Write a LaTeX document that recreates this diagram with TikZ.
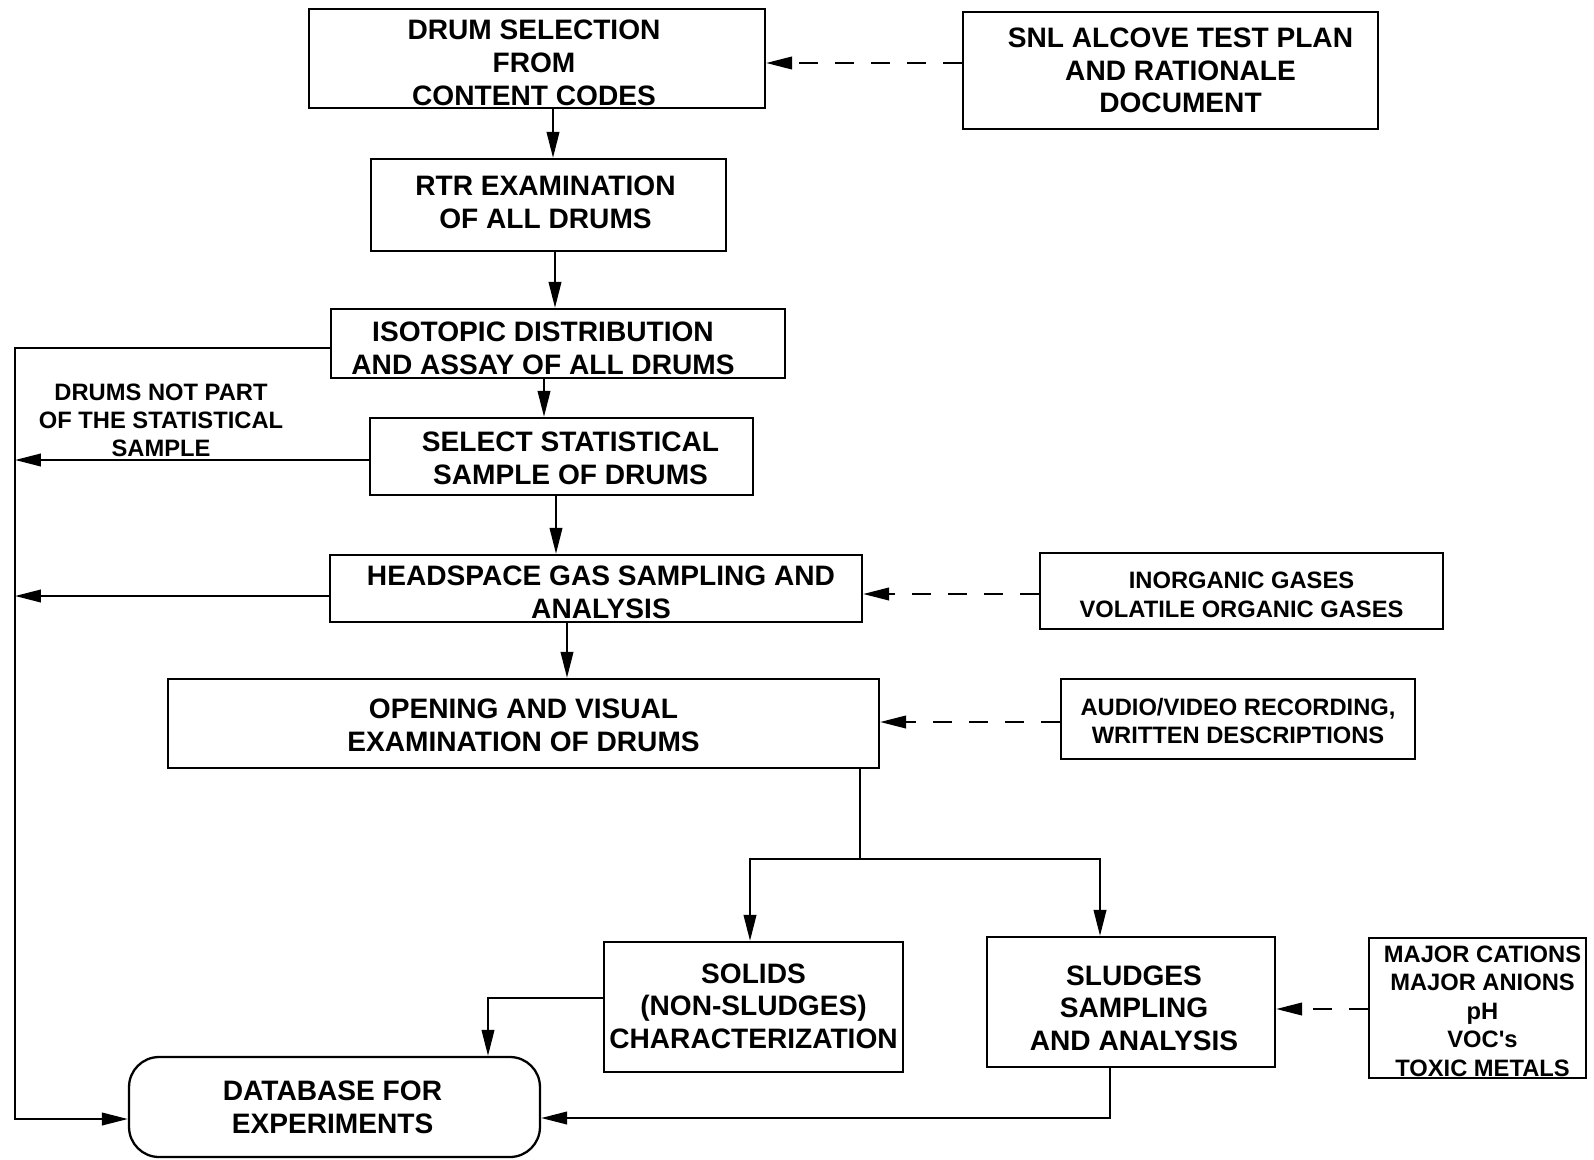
\documentclass[tikz,border=0pt]{standalone}
\usepackage{fontspec}
\setmainfont{Liberation Sans}
\newfontfamily\plainquote[Ligatures=ResetAll]{Liberation Sans}
\usetikzlibrary{arrows.meta}
\tikzset{
  box/.style={draw, line width=1.3pt, rectangle, inner sep=0pt},
  txt/.style={align=center, inner sep=0pt, font=\bfseries\fontsize{16}{18.6}\selectfont},
  smalltxt/.style={txt, font=\bfseries\fontsize{13.5}{16.2}\selectfont},
  lbl/.style={align=center, inner sep=0pt, font=\bfseries\fontsize{13.5}{15.9}\selectfont},
  conn/.style={line width=1.3pt},
  arr/.style={conn, -{Triangle[length=0.52cm,width=0.25cm]}},
  darr/.style={arr, dash pattern=on 0.38cm off 0.34cm},
}
\begin{document}
\begin{tikzpicture}[x=0.02cm,y=-0.02cm]
\useasboundingbox (0,0) rectangle (1594,1159);
% boxes
\node[box, minimum width=9.12cm, minimum height=1.98cm] (drum) at (537,58.5) {};
\node[box, minimum width=8.3cm, minimum height=2.34cm] (snl) at (1170.5,70.5) {};
\node[box, minimum width=7.1cm, minimum height=1.84cm] (rtr) at (548.5,205) {};
\node[box, minimum width=9.08cm, minimum height=1.38cm] (iso) at (558,343.5) {};
\node[box, minimum width=7.66cm, minimum height=1.54cm] (sel) at (561.5,456.5) {};
\node[box, minimum width=10.64cm, minimum height=1.34cm] (head) at (596,588.5) {};
\node[box, minimum width=8.06cm, minimum height=1.52cm] (inorg) at (1241.5,591) {};
\node[box, minimum width=14.22cm, minimum height=1.78cm] (open) at (523.5,723.5) {};
\node[box, minimum width=7.08cm, minimum height=1.6cm] (audio) at (1238,719) {};
\node[box, minimum width=5.98cm, minimum height=2.6cm] (solids) at (753.5,1007) {};
\node[box, minimum width=5.76cm, minimum height=2.6cm] (sludges) at (1131,1002) {};
\node[box, minimum width=4.34cm, minimum height=2.8cm] (major) at (1477.5,1008) {};
\node[box, rounded corners=0.6cm, minimum width=8.22cm, minimum height=2.0cm] (db) at (334.5,1107) {};
% texts
\node[txt] (drum-t) at ([shift={(-3,4.5)}]drum.center) {DRUM SELECTION\\FROM\\CONTENT CODES};
\node[txt] (snl-t) at ([shift={(10,0)}]snl.center) {SNL ALCOVE TEST PLAN\\AND RATIONALE\\DOCUMENT};
\node[txt] (rtr-t) at ([shift={(-3,-3)}]rtr.center) {RTR EXAMINATION\\OF ALL DRUMS};
\node[txt] (iso-t) at ([shift={(-15,5)}]iso.center) {ISOTOPIC DISTRIBUTION\\AND ASSAY OF ALL DRUMS};
\node[txt] (sel-t) at ([shift={(9,2)}]sel.center) {SELECT STATISTICAL\\SAMPLE OF DRUMS};
\node[txt] (head-t) at ([shift={(5,4)}]head.center) {HEADSPACE GAS SAMPLING AND\\ANALYSIS};
\node[smalltxt] (inorg-t) at ([shift={(0,4)}]inorg.center) {INORGANIC GASES\\VOLATILE ORGANIC GASES};
\node[txt] (open-t) at ([shift={(0,2)}]open.center) {OPENING AND VISUAL\\EXAMINATION OF DRUMS};
\node[smalltxt] (audio-t) at ([shift={(0,2)}]audio.center) {AUDIO/VIDEO RECORDING,\\WRITTEN DESCRIPTIONS};
\node[txt] (solids-t) at ([shift={(0,-1)}]solids.center) {SOLIDS\\(NON-SLUDGES)\\CHARACTERIZATION};
\node[txt] (sludges-t) at ([shift={(3,6)}]sludges.center) {SLUDGES\\SAMPLING\\AND ANALYSIS};
\node[smalltxt] (major-t) at ([shift={(5,3)}]major.center) {MAJOR CATIONS\\MAJOR ANIONS\\pH\\VOC{\plainquote '}s\\TOXIC METALS};
\node[txt] (db-t) at ([shift={(-2,0)}]db.center) {DATABASE FOR\\EXPERIMENTS};
\node[lbl] (notpart) at (161,420) {DRUMS NOT PART\\OF THE STATISTICAL\\SAMPLE};
% helper coordinates
\coordinate (x1) at (553,0);
\coordinate (x2) at (555,0);
\coordinate (x3) at (544,0);
\coordinate (x4) at (556,0);
\coordinate (x5) at (567,0);
\coordinate (ya) at (15,348);
\coordinate (yb) at (15,460);
\coordinate (yc) at (15,596);
\coordinate (yd) at (15,1119);
\coordinate (br) at (860,859);
\coordinate (bl) at (750,859);
\coordinate (brr) at (1100,859);
\coordinate (sd) at (488,998);
\coordinate (sl) at (1110,1118);
\coordinate (d1) at (0,63);
\coordinate (d2) at (0,594);
\coordinate (d3) at (0,722);
\coordinate (d4) at (0,1009);
% main flow
\draw[arr] (drum.south -| x1) -- (rtr.north -| x1);
\draw[arr] (rtr.south -| x2) -- (iso.north -| x2);
\draw[arr] (iso.south -| x3) -- (sel.north -| x3);
\draw[arr] (sel.south -| x4) -- (head.north -| x4);
\draw[arr] (head.south -| x5) -- (open.north -| x5);
% left rail
\draw[arr] (iso.west |- ya) -- (ya) -- (yd) -- (db.west |- yd);
\draw[arr] (sel.west |- yb) -- (yb);
\draw[arr] (head.west |- yc) -- (yc);
% branch
\draw[arr] (open.south -| br) -- (br) -- (bl) -- (solids.north -| bl);
\draw[arr] (br) -- (brr) -- (sludges.north -| brr);
\draw[arr] (solids.west |- sd) -- (sd) -- (db.north -| sd);
\draw[arr] (sludges.south -| sl) -- (sl) -- (db.east |- sl);
% dashed inputs
\draw[darr] (snl.west |- d1) -- (drum.east |- d1);
\draw[darr] (inorg.west |- d2) -- (head.east |- d2);
\draw[darr] (audio.west |- d3) -- (open.east |- d3);
\draw[darr] (major.west |- d4) -- (sludges.east |- d4);
\end{tikzpicture}
\end{document}
